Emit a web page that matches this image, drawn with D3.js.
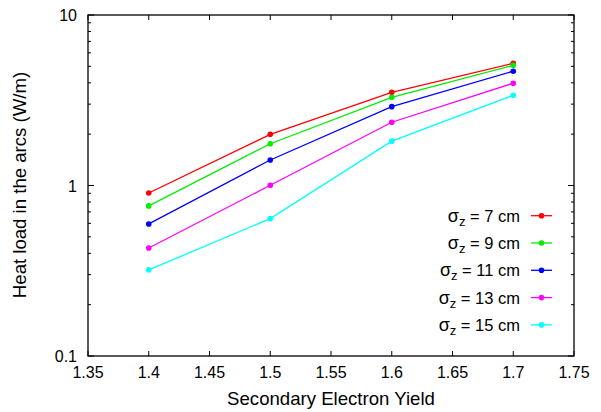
<!DOCTYPE html>
<html><head><meta charset="utf-8">
<script src="https://cdn.jsdelivr.net/npm/d3@7"></script>
<style>body{margin:0;background:#fff}svg{display:block}text{font-family:"Liberation Sans",Arial,sans-serif}</style>
</head><body>
<svg id="c" width="601" height="412"></svg>
<script>
const seyValues = [1.4, 1.5, 1.6, 1.7];
const sigma7  = [0.904, 1.996, 3.52, 5.21];
const sigma9  = [0.759, 1.758, 3.29, 5.07];
const sigma11 = [0.595, 1.411, 2.90, 4.68];
const sigma13 = [0.430, 1.003, 2.35, 3.98];
const sigma15 = [0.320, 0.639, 1.82, 3.38];
const seriesNames = ["7", "9", "11", "13", "15"];
const seriesColors = ["#ff0000", "#00ee00", "#0000ff", "#ff00ff", "#00ffff"];
const xTicks = [1.35, 1.4, 1.45, 1.5, 1.55, 1.6, 1.65, 1.7, 1.75];
const yTicks = [0.1, 1, 10];
const xTitle = "Secondary Electron Yield";
const yTitle = "Heat load in the arcs (W/m)";

const series = [sigma7, sigma9, sigma11, sigma13, sigma15];
const svg = d3.select("#c");
const L = 88, R = 574, T = 15, B = 356;
const x = d3.scaleLinear().domain([1.35, 1.75]).range([L, R]);
const y = d3.scaleLog().domain([0.1, 10]).range([B, T]);
const fs = 16, tfs = 18.6;

const minor = [];
for (const d of [0.1, 1]) for (let k = 2; k <= 9; k++) minor.push(d * k);

const g = svg.append("g");
xTicks.forEach(v => {
  g.append("line").attr("x1", x(v)).attr("x2", x(v)).attr("y1", B).attr("y2", B - 5).attr("stroke", "#000");
  g.append("line").attr("x1", x(v)).attr("x2", x(v)).attr("y1", T).attr("y2", T + 5).attr("stroke", "#000");
  g.append("text").attr("x", x(v)).attr("y", B + 22).attr("text-anchor", "middle").attr("font-size", fs).text(d3.format("")(v));
});
yTicks.forEach(v => {
  g.append("line").attr("x1", L).attr("x2", L + 6).attr("y1", y(v)).attr("y2", y(v)).attr("stroke", "#000");
  g.append("line").attr("x1", R).attr("x2", R - 6).attr("y1", y(v)).attr("y2", y(v)).attr("stroke", "#000");
  g.append("text").attr("x", L - 11).attr("y", y(v) + 6).attr("text-anchor", "end").attr("font-size", fs).text(String(v));
});
minor.forEach(v => {
  g.append("line").attr("x1", L).attr("x2", L + 3).attr("y1", y(v)).attr("y2", y(v)).attr("stroke", "#000");
  g.append("line").attr("x1", R).attr("x2", R - 3).attr("y1", y(v)).attr("y2", y(v)).attr("stroke", "#000");
});
g.append("rect").attr("x", L).attr("y", T).attr("width", R - L).attr("height", B - T)
  .attr("fill", "none").attr("stroke", "#000").attr("stroke-width", 1.3);

svg.append("text").attr("x", 331).attr("y", 405).attr("text-anchor", "middle").attr("font-size", tfs).text(xTitle);
svg.append("text").attr("transform", `translate(26,185) rotate(-90)`).attr("text-anchor", "middle").attr("font-size", tfs).text(yTitle);

const line = d3.line().x((d, i) => x(seyValues[i])).y(d => y(d));
series.forEach((s, k) => {
  svg.append("path").datum(s).attr("d", line).attr("fill", "none").attr("stroke", seriesColors[k]).attr("stroke-width", 1.3);
  svg.selectAll(null).data(s).enter().append("circle")
    .attr("cx", (d, i) => x(seyValues[i])).attr("cy", d => y(d)).attr("r", 2.8).attr("fill", seriesColors[k]);
});

const legY0 = 215.7, legDy = 27.3;
seriesNames.forEach((n, k) => {
  const yy = legY0 + k * legDy;
  const t = svg.append("text").attr("x", 520).attr("y", yy + 6).attr("text-anchor", "end").attr("font-size", 16.5);
  t.append("tspan").attr("font-size", 18).text("σ");
  t.append("tspan").attr("font-size", 13).attr("dy", 4).text("z");
  t.append("tspan").attr("dy", -4).text(` = ${n} cm`);
  svg.append("line").attr("x1", 531).attr("x2", 552).attr("y1", yy).attr("y2", yy).attr("stroke", seriesColors[k]).attr("stroke-width", 1.3);
  svg.append("circle").attr("cx", 541.5).attr("cy", yy).attr("r", 2.8).attr("fill", seriesColors[k]);
});
</script>
</body></html>
